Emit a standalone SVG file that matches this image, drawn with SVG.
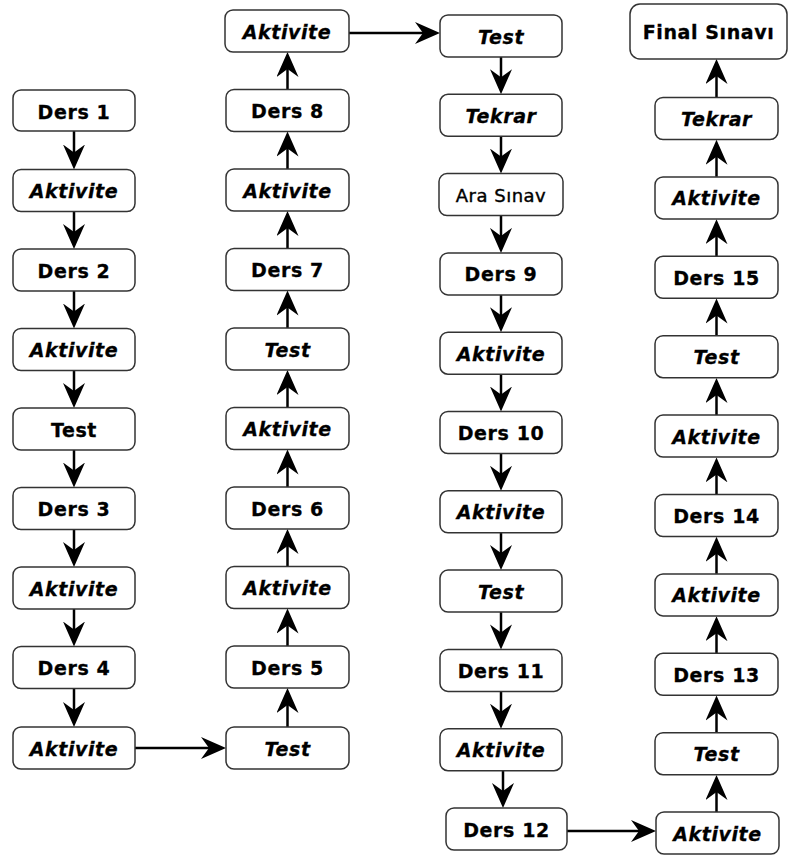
<svg xmlns="http://www.w3.org/2000/svg" width="790" height="855" viewBox="0 0 790 855">
<style>
rect{fill:#fff;stroke:#333;stroke-width:1.5}
text{font-family:"DejaVu Sans","Verdana",sans-serif;font-size:19px;font-weight:bold;letter-spacing:0.6px;text-anchor:middle;fill:#000;stroke:#000;stroke-width:0.3}
.i{font-style:italic}
.n{font-weight:normal;font-size:18px;letter-spacing:0.5px;stroke-width:0.4}
.c line{stroke:#000;stroke-width:2.5;marker-end:url(#ah)}
</style>
<defs>
<marker id="ah" markerUnits="userSpaceOnUse" markerWidth="26" markerHeight="22" viewBox="0 0 26 22" refX="14" refY="11" orient="auto">
<path d="M0,0 L25,11 L0,22 L8,11 Z" fill="#000"/>
</marker>
</defs>
<g class="c" id="connectors">
<line x1="74" y1="131" x2="74" y2="158.5"/>
<line x1="74" y1="211.5" x2="74" y2="238"/>
<line x1="74" y1="291" x2="74" y2="317.5"/>
<line x1="74" y1="370.5" x2="74" y2="397"/>
<line x1="74" y1="450" x2="74" y2="476.5"/>
<line x1="74" y1="529.5" x2="74" y2="556"/>
<line x1="74" y1="609" x2="74" y2="635.5"/>
<line x1="74" y1="688.5" x2="74" y2="716"/>
<line x1="135" y1="748" x2="215" y2="748"/>
<line x1="287.5" y1="727" x2="287.5" y2="699"/>
<line x1="287.5" y1="646" x2="287.5" y2="619.5"/>
<line x1="287.5" y1="566.5" x2="287.5" y2="540"/>
<line x1="287.5" y1="487" x2="287.5" y2="460.5"/>
<line x1="287.5" y1="407.5" x2="287.5" y2="381"/>
<line x1="287.5" y1="328" x2="287.5" y2="301.5"/>
<line x1="287.5" y1="248.5" x2="287.5" y2="222"/>
<line x1="287.5" y1="169" x2="287.5" y2="142.5"/>
<line x1="287.5" y1="89.5" x2="287.5" y2="63"/>
<line x1="349" y1="33" x2="429" y2="33"/>
<line x1="501" y1="57" x2="501" y2="83.3"/>
<line x1="501" y1="136.3" x2="501" y2="162.6"/>
<line x1="501" y1="215.6" x2="501" y2="241.9"/>
<line x1="501" y1="294.9" x2="501" y2="321.2"/>
<line x1="501" y1="374.2" x2="501" y2="400.5"/>
<line x1="501" y1="453.5" x2="501" y2="479.8"/>
<line x1="501" y1="532.8" x2="501" y2="559.1"/>
<line x1="501" y1="612.1" x2="501" y2="638.4"/>
<line x1="501" y1="691.4" x2="501" y2="717.7"/>
<line x1="503" y1="770.7" x2="503" y2="797"/>
<line x1="567" y1="831" x2="645" y2="831"/>
<line x1="716.5" y1="812" x2="716.5" y2="786"/>
<line x1="716.5" y1="732.6" x2="716.5" y2="706.6"/>
<line x1="716.5" y1="653.2" x2="716.5" y2="627.2"/>
<line x1="716.5" y1="573.8" x2="716.5" y2="547.8"/>
<line x1="716.5" y1="494.4" x2="716.5" y2="468.4"/>
<line x1="716.5" y1="415" x2="716.5" y2="389"/>
<line x1="716.5" y1="335.6" x2="716.5" y2="309.6"/>
<line x1="716.5" y1="256.2" x2="716.5" y2="230.2"/>
<line x1="716.5" y1="176.8" x2="716.5" y2="150.8"/>
<line x1="716.5" y1="97.5" x2="716.5" y2="70"/>
</g>
<g id="c1n1"><rect x="13" y="90" width="122" height="41" rx="8"/><text x="74" y="118.5">Ders 1</text></g>
<g id="c1n2"><rect x="13" y="169.5" width="122" height="42" rx="8"/><text class="i" x="74" y="198">Aktivite</text></g>
<g id="c1n3"><rect x="13" y="249" width="122" height="42" rx="8"/><text x="74" y="277.5">Ders 2</text></g>
<g id="c1n4"><rect x="13" y="328.5" width="122" height="42" rx="8"/><text class="i" x="74" y="357">Aktivite</text></g>
<g id="c1n5"><rect x="13" y="408" width="122" height="42" rx="8"/><text x="74" y="436.5">Test</text></g>
<g id="c1n6"><rect x="13" y="487.5" width="122" height="42" rx="8"/><text x="74" y="516">Ders 3</text></g>
<g id="c1n7"><rect x="13" y="567" width="122" height="42" rx="8"/><text class="i" x="74" y="595.5">Aktivite</text></g>
<g id="c1n8"><rect x="13" y="646.5" width="122" height="42" rx="8"/><text x="74" y="675">Ders 4</text></g>
<g id="c1n9"><rect x="13" y="727" width="122" height="42" rx="8"/><text class="i" x="74" y="755.5">Aktivite</text></g>
<g id="c2n1"><rect x="225" y="10" width="124" height="42" rx="8"/><text class="i" x="287" y="38.5">Aktivite</text></g>
<g id="c2n2"><rect x="226" y="89.5" width="123" height="42" rx="8"/><text x="287.5" y="118">Ders 8</text></g>
<g id="c2n3"><rect x="226" y="169" width="123" height="42" rx="8"/><text class="i" x="287.5" y="197.5">Aktivite</text></g>
<g id="c2n4"><rect x="226" y="248.5" width="123" height="42" rx="8"/><text x="287.5" y="277">Ders 7</text></g>
<g id="c2n5"><rect x="226" y="328" width="123" height="42" rx="8"/><text class="i" x="287.5" y="356.5">Test</text></g>
<g id="c2n6"><rect x="226" y="407.5" width="123" height="42" rx="8"/><text class="i" x="287.5" y="436">Aktivite</text></g>
<g id="c2n7"><rect x="226" y="487" width="123" height="42" rx="8"/><text x="287.5" y="515.5">Ders 6</text></g>
<g id="c2n8"><rect x="226" y="566.5" width="123" height="42" rx="8"/><text class="i" x="287.5" y="595">Aktivite</text></g>
<g id="c2n9"><rect x="226" y="646" width="123" height="42" rx="8"/><text x="287.5" y="674.5">Ders 5</text></g>
<g id="c2n10"><rect x="226" y="727" width="123" height="42" rx="8"/><text class="i" x="287.5" y="755.5">Test</text></g>
<g id="c3n1"><rect x="440" y="15" width="122" height="42" rx="8"/><text class="i" x="501" y="43.5">Test</text></g>
<g id="c3n2"><rect x="440" y="94.3" width="122" height="42" rx="8"/><text class="i" x="501" y="122.8">Tekrar</text></g>
<g id="c3n3"><rect x="439" y="173.6" width="124" height="42" rx="8"/><text class="n" x="501" y="201.5">Ara Sınav</text></g>
<g id="c3n4"><rect x="440" y="252.9" width="122" height="42" rx="8"/><text x="501" y="281.4">Ders 9</text></g>
<g id="c3n5"><rect x="440" y="332.2" width="122" height="42" rx="8"/><text class="i" x="501" y="360.7">Aktivite</text></g>
<g id="c3n6"><rect x="440" y="411.5" width="122" height="42" rx="8"/><text x="501" y="440">Ders 10</text></g>
<g id="c3n7"><rect x="440" y="490.8" width="122" height="42" rx="8"/><text class="i" x="501" y="519.3">Aktivite</text></g>
<g id="c3n8"><rect x="440" y="570.1" width="122" height="42" rx="8"/><text class="i" x="501" y="598.6">Test</text></g>
<g id="c3n9"><rect x="440" y="649.4" width="122" height="42" rx="8"/><text x="501" y="677.9">Ders 11</text></g>
<g id="c3n10"><rect x="440" y="728.7" width="122" height="42" rx="8"/><text class="i" x="501" y="757.2">Aktivite</text></g>
<g id="c3n11"><rect x="446" y="808" width="121" height="42" rx="8"/><text x="506.5" y="836.5">Ders 12</text></g>
<g id="c4n0"><rect x="630" y="4" width="157" height="55" rx="10"/><text x="708.5" y="38.5">Final Sınavı</text></g>
<g id="c4n1"><rect x="655" y="97.5" width="123" height="42" rx="8"/><text class="i" x="716.5" y="126">Tekrar</text></g>
<g id="c4n2"><rect x="655" y="176.9" width="123" height="42" rx="8"/><text class="i" x="716.5" y="205.4">Aktivite</text></g>
<g id="c4n3"><rect x="655" y="256.3" width="123" height="42" rx="8"/><text x="716.5" y="284.8">Ders 15</text></g>
<g id="c4n4"><rect x="655" y="335.7" width="123" height="42" rx="8"/><text class="i" x="716.5" y="364.2">Test</text></g>
<g id="c4n5"><rect x="655" y="415.1" width="123" height="42" rx="8"/><text class="i" x="716.5" y="443.6">Aktivite</text></g>
<g id="c4n6"><rect x="655" y="494.5" width="123" height="42" rx="8"/><text x="716.5" y="523">Ders 14</text></g>
<g id="c4n7"><rect x="655" y="573.9" width="123" height="42" rx="8"/><text class="i" x="716.5" y="602.4">Aktivite</text></g>
<g id="c4n8"><rect x="655" y="653.3" width="123" height="42" rx="8"/><text x="716.5" y="681.8">Ders 13</text></g>
<g id="c4n9"><rect x="655" y="732.7" width="123" height="42" rx="8"/><text class="i" x="716.5" y="761.2">Test</text></g>
<g id="c4n10"><rect x="656" y="812" width="123" height="42" rx="8"/><text class="i" x="717.5" y="840.5">Aktivite</text></g>
</svg>
